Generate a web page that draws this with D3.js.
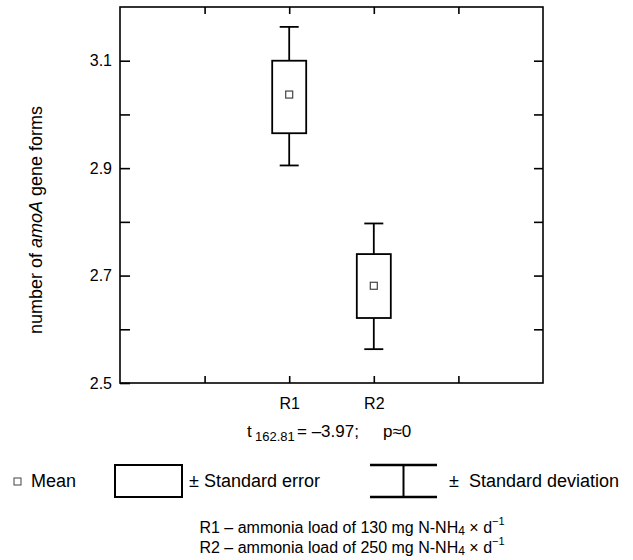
<!DOCTYPE html>
<html>
<head>
<meta charset="utf-8">
<script src="https://cdn.jsdelivr.net/npm/d3@7"></script>
<style>
  body { margin: 0; background: #fff; }
  svg text { font-family: Arial, "Liberation Sans", sans-serif; fill: #000; }
</style>
</head>
<body>
<div id="chart"></div>
<script>
// data
var groups = ["R1", "R2"]
var groupPos = [2, 3]
var means = [3.037, 2.681]
var seLow = [2.965, 2.621]
var seHigh = [3.100, 2.740]
var sdLow = [2.905, 2.563]
var sdHigh = [3.163, 2.797]
var yMajor = [2.5, 2.7, 2.9, 3.1]
var yMinor = [2.6, 2.8, 3.0]
var xTicks = [1, 2, 3, 4]
var loads = [130, 250]

var w = 633, h = 560
// note: "top" is reserved on window, so plot edges get their own names
var plotL = 120, plotR = 543, plotT = 7, plotB = 383
var fs = 16
var lw = 1.8

var svg = d3.select("#chart").append("svg")
  .attr("width", w).attr("height", h)

var x = d3.scaleLinear().domain([0, 5]).range([plotL, plotR])
var y = d3.scaleLinear().domain([2.5, 3.2]).range([plotB, plotT])

// frame
svg.append("rect")
  .attr("x", plotL).attr("y", plotT)
  .attr("width", plotR - plotL).attr("height", plotB - plotT)
  .attr("fill", "none").attr("stroke", "#000").attr("stroke-width", 1.6)

var styleAxis = function(g) {
  g.select(".domain").remove()
  g.selectAll(".tick line").attr("stroke", "#000").attr("stroke-width", 1.6)
  g.selectAll(".tick text").attr("font-size", fs).attr("fill", "#000")
    .attr("font-family", "Arial, 'Liberation Sans', sans-serif")
}

// left axis: majors with labels, minors without
svg.append("g").attr("transform", "translate(" + plotL + ",0)")
  .call(d3.axisLeft(y).tickValues(yMajor).tickSizeInner(-10).tickSizeOuter(0)
    .tickPadding(8).tickFormat(d3.format(".1f")))
  .call(styleAxis)
svg.append("g").attr("transform", "translate(" + plotL + ",0)")
  .call(d3.axisLeft(y).tickValues(yMinor).tickSizeInner(-10).tickSizeOuter(0).tickFormat(""))
  .call(styleAxis)

// right axis ticks
svg.append("g").attr("transform", "translate(" + plotR + ",0)")
  .call(d3.axisRight(y).tickValues([2.6, 2.7, 2.8, 2.9, 3.0, 3.1])
    .tickSizeInner(-9).tickSizeOuter(0).tickFormat(""))
  .call(styleAxis)

// top and bottom ticks
svg.append("g").attr("transform", "translate(0," + plotT + ")")
  .call(d3.axisTop(x).tickValues(xTicks).tickSizeInner(-7).tickSizeOuter(0).tickFormat(""))
  .call(styleAxis)
svg.append("g").attr("transform", "translate(0," + plotB + ")")
  .call(d3.axisBottom(x).tickValues(xTicks).tickSizeInner(-7).tickSizeOuter(0).tickPadding(15)
    .tickFormat(function(d) { var i = groupPos.indexOf(d); return i < 0 ? "" : groups[i] }))
  .call(styleAxis)

// y title
var yt = svg.append("text")
  .attr("transform", "translate(42,220) rotate(-90)")
  .attr("text-anchor", "middle").attr("font-size", 18)
yt.append("tspan").text("number of ")
yt.append("tspan").attr("font-style", "italic").text("amoA")
yt.append("tspan").text(" gene forms")

// boxes
var boxW = 34, capW = 19
var g = svg.append("g")
groups.forEach(function(name, i) {
  var cx = x(groupPos[i])
  g.append("line")
    .attr("x1", cx).attr("x2", cx).attr("y1", y(sdHigh[i])).attr("y2", y(seHigh[i]))
    .attr("stroke", "#000").attr("stroke-width", lw)
  g.append("line")
    .attr("x1", cx).attr("x2", cx).attr("y1", y(seLow[i])).attr("y2", y(sdLow[i]))
    .attr("stroke", "#000").attr("stroke-width", lw)
  ;[sdHigh[i], sdLow[i]].forEach(function(v) {
    g.append("line")
      .attr("x1", cx - capW / 2).attr("x2", cx + capW / 2).attr("y1", y(v)).attr("y2", y(v))
      .attr("stroke", "#000").attr("stroke-width", lw)
  })
  g.append("rect")
    .attr("x", cx - boxW / 2).attr("y", y(seHigh[i]))
    .attr("width", boxW).attr("height", y(seLow[i]) - y(seHigh[i]))
    .attr("fill", "#fff").attr("stroke", "#000").attr("stroke-width", lw)
  g.append("rect")
    .attr("x", cx - 3.5).attr("y", y(means[i]) - 3.5)
    .attr("width", 7).attr("height", 7)
    .attr("fill", "#fff").attr("stroke", "#444").attr("stroke-width", 1.2)
})

// t statistic line, pieces placed one by one to keep the original spacing
var tBase = 437
svg.append("text").attr("x", 247).attr("y", tBase).attr("font-size", 17).text("t")
svg.append("text").attr("x", 255).attr("y", tBase + 4).attr("font-size", 13).text("162.81")
svg.append("text").attr("x", 297).attr("y", tBase).attr("font-size", 17).text("= \u20133.97;")
svg.append("text").attr("x", 383).attr("y", tBase).attr("font-size", 17).text("p\u22480")

// legend
var ly = 487
svg.append("rect").attr("x", 14).attr("y", ly - 9).attr("width", 7).attr("height", 7)
  .attr("fill", "#fff").attr("stroke", "#444").attr("stroke-width", 1)
svg.append("text").attr("x", 31).attr("y", ly).attr("font-size", 18).text("Mean")

svg.append("rect").attr("x", 115).attr("y", 465).attr("width", 67).attr("height", 32)
  .attr("fill", "#fff").attr("stroke", "#000").attr("stroke-width", 2)
svg.append("text").attr("x", 189).attr("y", ly).attr("font-size", 18).text("\u00b1 Standard error")

var ix1 = 370, ix2 = 437, iy1 = 465, iy2 = 497
svg.append("line").attr("x1", ix1).attr("x2", ix2).attr("y1", iy1).attr("y2", iy1)
  .attr("stroke", "#000").attr("stroke-width", 2.5)
svg.append("line").attr("x1", ix1).attr("x2", ix2).attr("y1", iy2).attr("y2", iy2)
  .attr("stroke", "#000").attr("stroke-width", 2.5)
svg.append("line").attr("x1", (ix1 + ix2) / 2).attr("x2", (ix1 + ix2) / 2).attr("y1", iy1).attr("y2", iy2)
  .attr("stroke", "#000").attr("stroke-width", 2)
svg.append("text").attr("x", 449).attr("y", ly).attr("font-size", 18).text("\u00b1\u00a0 Standard deviation")

// footnotes
groups.forEach(function(name, i) {
  var t = svg.append("text").attr("x", 352).attr("y", 533 + i * 20)
    .attr("text-anchor", "middle").attr("font-size", fs)
  t.append("tspan").text(name + " \u2013 ammonia load of " + loads[i] + " mg N-NH")
  t.append("tspan").attr("font-size", 12).attr("dy", 2).text("4")
  t.append("tspan").attr("dy", -2).text(" \u00d7 d")
  t.append("tspan").attr("font-size", 11).attr("dy", -8).text("\u22121")
})
</script>
</body>
</html>
